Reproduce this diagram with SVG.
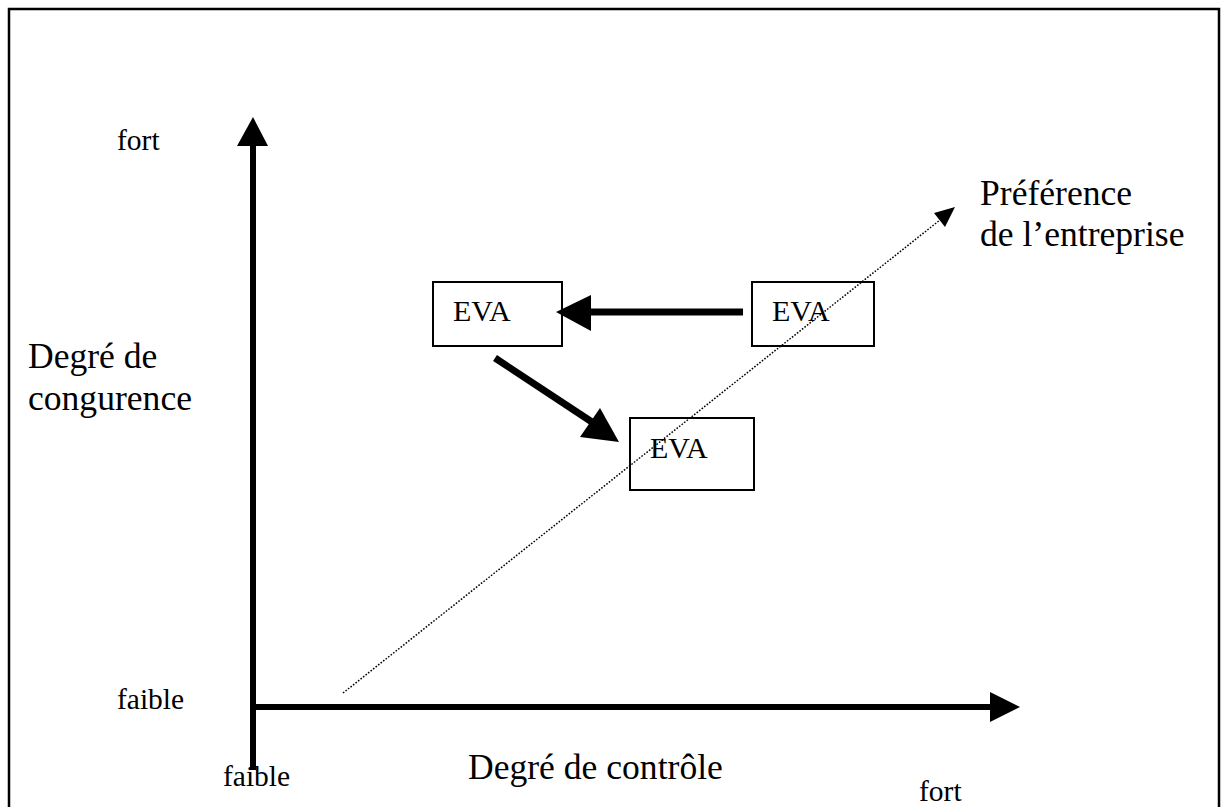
<svg xmlns="http://www.w3.org/2000/svg" width="1223" height="807" viewBox="0 0 1223 807">
<style>
text{font-family:"Liberation Serif","Times New Roman",serif;fill:#000}
.s{font-size:29.5px}
.l{font-size:35.6px}
.box{fill:none;stroke:#000;stroke-width:2}
.thick{stroke:#000;stroke-width:6;fill:none}
.head{fill:#000}
</style>
<rect x="0" y="0" width="1223" height="807" fill="#fff"/>
<rect x="9" y="9" width="1210" height="810" fill="none" stroke="#000" stroke-width="2.5"/>
<g id="connectors">
  <line class="thick" x1="253" y1="770" x2="253" y2="140"/>
  <polygon class="head" points="253,117 268,146 237,146"/>
  <line class="thick" x1="250" y1="707" x2="995" y2="707"/>
  <polygon class="head" points="1020,707 990,692 990,722"/>
  <line x1="343" y1="693" x2="940" y2="220" stroke="#000" stroke-width="1.5" stroke-dasharray="1.6,1.6"/>
  <polygon class="head" points="955,207 934,213 945,227"/>
  <line class="thick" x1="743" y1="312" x2="585" y2="312" style="stroke-width:7"/>
  <polygon class="head" points="556,312 591,295 591,331"/>
  <line class="thick" x1="495" y1="358" x2="595" y2="424" style="stroke-width:7"/>
  <polygon class="head" points="619,442 600,408 580,437"/>
</g>
<g id="box1"><rect class="box" x="433" y="282" width="129" height="64"/><text class="s" x="453" y="321" style="font-size:30px">EVA</text></g>
<g id="box2"><rect class="box" x="752" y="282" width="122" height="64"/><text class="s" x="772" y="321" style="font-size:30px">EVA</text></g>
<g id="box3"><rect class="box" x="630" y="418" width="124" height="72"/><text class="s" x="650" y="458" style="font-size:30px">EVA</text></g>
<g id="labels">
  <text class="s" x="117" y="150">fort</text>
  <text class="s" x="117" y="709">faible</text>
  <text class="s" x="223" y="786">faible</text>
  <text class="s" x="919" y="801">fort</text>
  <text class="l" x="468" y="779">Degré de contrôle</text>
  <text class="l" x="28" y="368">Degré de</text>
  <text class="l" x="28" y="410">congurence</text>
  <text class="l" x="980" y="205">Préférence</text>
  <text class="l" x="980" y="246">de l’entreprise</text>
</g>
</svg>
